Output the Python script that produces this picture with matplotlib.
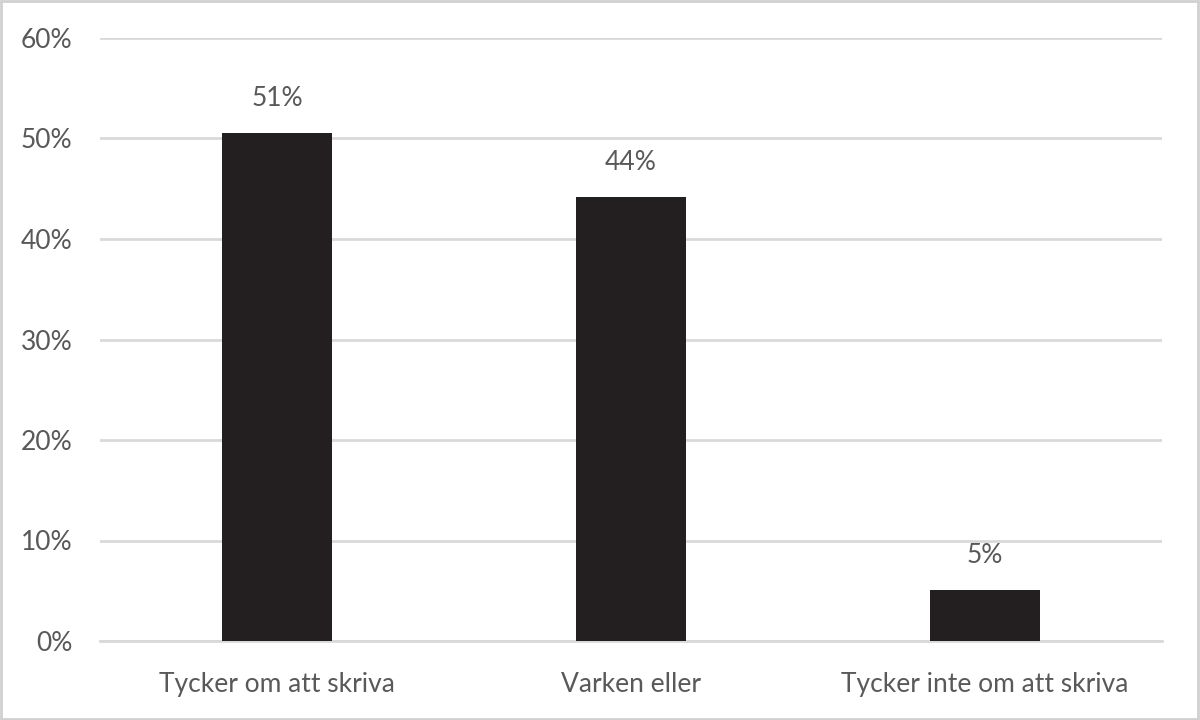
import matplotlib
matplotlib.use('Agg')
import matplotlib.pyplot as plt
from matplotlib.patches import Rectangle

categories = ["Tycker om att skriva", "Varken eller", "Tycker inte om att skriva"]
values = [50.5, 44.2, 5.1]
labels = ["51%", "44%", "5%"]

plt.rcParams['font.family'] = ['Lato', 'DejaVu Sans']
text_color = '#595959'
grid_color = '#d9d9d9'

fig = plt.figure(figsize=(12, 7.2), dpi=100)
ax = fig.add_axes([100 / 1200, (720 - 641) / 720, 1062 / 1200, 603 / 720])

x = range(len(categories))
ax.bar(x, values, width=0.31, color='#231f20', zorder=3)
for i, v in enumerate(values):
    ax.text(i, v + 2.2, labels[i], ha='center', va='bottom', fontsize=19, color=text_color)

ax.set_ylim(0, 60)
ax.set_xlim(-0.5, 2.5)
ax.set_yticks(range(0, 61, 10))
ax.set_yticklabels([f"{t}%" for t in range(0, 61, 10)])
ax.set_xticks(list(x))
ax.set_xticklabels(categories)
ax.tick_params(axis='both', length=0, labelsize=19, colors=text_color)
ax.tick_params(axis='y', pad=20)
ax.tick_params(axis='x', pad=22)
ax.yaxis.grid(True, color=grid_color, linewidth=2, zorder=0)
for s in ['top', 'right', 'left']:
    ax.spines[s].set_visible(False)
ax.spines['bottom'].set_color(grid_color)
ax.spines['bottom'].set_linewidth(2)

fig.patches.append(Rectangle((0.001, 0.002), 0.997, 0.996, transform=fig.transFigure,
                             fill=False, edgecolor='#d0d0d0', linewidth=2))

fig.savefig("out.png", dpi=100)
